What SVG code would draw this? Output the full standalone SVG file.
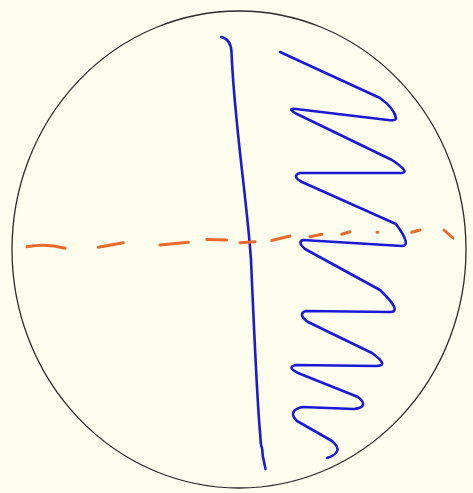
<svg xmlns="http://www.w3.org/2000/svg" width="473" height="493" viewBox="0 0 473 493">
<style>
.bg{fill:#fefeef}
.outline{fill:none;stroke:#2a2a2a;stroke-width:1.3}
.blue{fill:none;stroke:#1a1ad6;stroke-width:2.6;stroke-linecap:round;stroke-linejoin:round}
.dash{fill:none;stroke:#ea6a2c;stroke-width:3;stroke-linecap:round}
</style>
<rect class="bg" x="0" y="0" width="473" height="493"/>
<g id="circle">
<ellipse class="outline" cx="239" cy="249.5" rx="227" ry="238.5"/>
</g>
<g id="vertical-line">
<path class="blue" d="M221,37 C227,38 231,43 231.5,52 C234,120 247,200 251,260 C254,330 257,400 260,432 C261,440 260,444 262,448 C263,452 262,456 263.5,459 L265.5,469"/>
</g>
<g id="zigzag">
<path class="blue" d="M280,52 L380,98 Q394,108 396,118 Q396,121 388,120 L296,109 Q286,108 297,114 L392,160 Q410,172 402,173 L300,173 Q291,176 302,182 L396,224 Q412,246 402,246 L303,240 Q297,242 305,249 L380,290 Q403,312 390,312 L306,311 Q297,314 308,322 L372,353 Q390,366 376,366 L296,365 Q286,367 298,373 L358,397 Q370,407 354,409 L302,407 Q287,411 297,421 L332,441 Q345,452 327,458"/>
</g>
<g id="dashed-line">
<path class="dash" d="M27,246.7 Q47,243 65,248.3"/>
<path class="dash" d="M98.3,247.3 L123.3,242.7"/>
<path class="dash" d="M160,245 L188.3,242.3"/>
<path class="dash" d="M206.7,239.5 L226.7,240"/>
<path class="dash" d="M240,242.7 L255,241.7"/>
<path class="dash" d="M271.7,240.5 L290,236"/>
<path class="dash" d="M310,236.7 L321.7,234.3"/>
<path class="dash" d="M341.7,234.3 L350,231.7"/>
<path class="dash" d="M377,232.3 L377.8,232.2"/>
<path class="dash" d="M411.7,232.3 L420,230"/>
<path class="dash" d="M444,230 L453,238"/>
</g>
</svg>
